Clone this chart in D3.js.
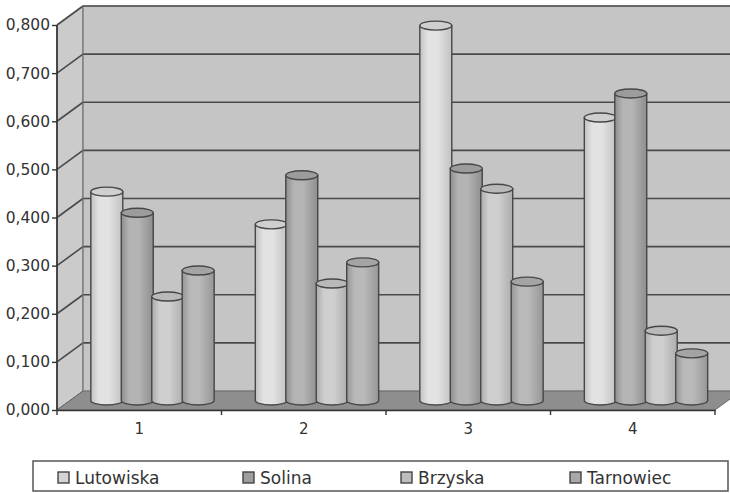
<!DOCTYPE html>
<html>
<head>
<meta charset="utf-8">
<script src="https://cdn.jsdelivr.net/npm/d3@7/dist/d3.min.js"></script>
<style>
  html, body { margin: 0; padding: 0; background: #fff; }
  svg { display: block; }
  text { font-family: "DejaVu Sans", "Liberation Sans", sans-serif; fill: #333; }
</style>
</head>
<body>
<svg id="chart" width="730" height="493"></svg>
<script>
// Categories, series and values
const categories = ["1", "2", "3", "4"];
const seriesNames = ["Lutowiska", "Solina", "Brzyska", "Tarnowiec"];
const lutowiska = [0.434, 0.366, 0.779, 0.588];
const solina    = [0.390, 0.468, 0.482, 0.638];
const brzyska   = [0.216, 0.243, 0.440, 0.145];
const tarnowiec = [0.270, 0.287, 0.247, 0.098];
const yTicks = [0, 0.1, 0.2, 0.3, 0.4, 0.5, 0.6, 0.7, 0.8];

const seriesValues = [lutowiska, solina, brzyska, tarnowiec];
const seriesColors = [
  { light: "#e2e2e2", dark: "#c2c2c2", top: "#cfcfcf", key: "#d4d4d4" },
  { light: "#b4b4b4", dark: "#8e8e8e", top: "#9c9c9c", key: "#9e9e9e" },
  { light: "#cfcfcf", dark: "#acacac", top: "#b9b9b9", key: "#bdbdbd" },
  { light: "#b9b9b9", dark: "#969696", top: "#a4a4a4", key: "#a8a8a8" }
];

const svg = d3.select("#chart");
const defs = svg.append("defs");

// Front plane geometry and oblique depth offset
const x0 = 57, x1 = 715, yBase = 410, yTop = 25;
const depthX = 26, depthY = -19;

const x = d3.scaleBand().domain(categories).range([x0, x1]).paddingInner(0).paddingOuter(0);
const xs = d3.scaleBand().domain(seriesNames).range([0, x.bandwidth()]).paddingInner(0).paddingOuter(0.7);
const y = d3.scaleLinear().domain([0, 0.8]).range([yBase, yTop]);

const lineCol = "#4a4a4a";

// Side wall
svg.append("path")
  .attr("d", `M${x0},${y(0.8)} L${x0 + depthX},${y(0.8) + depthY} L${x0 + depthX},${y(0) + depthY} L${x0},${y(0)} Z`)
  .attr("fill", "#cbcbcb").attr("stroke", lineCol).attr("stroke-width", 1);

// Back wall
svg.append("rect")
  .attr("x", x0 + depthX).attr("y", y(0.8) + depthY)
  .attr("width", x1 - x0).attr("height", y(0) - y(0.8))
  .attr("fill", "#c5c5c5").attr("stroke", "#9a9a9a").attr("stroke-width", 1);

// Floor
svg.append("path")
  .attr("d", `M${x0},${y(0)} L${x0 + depthX},${y(0) + depthY} L${x1 + depthX},${y(0) + depthY} L${x1},${y(0)} Z`)
  .attr("fill", "#8e8e8e").attr("stroke", "#6a6a6a").attr("stroke-width", 1);

// Gridlines on back wall and side wall
const grid = svg.append("g");
yTicks.filter(t => t > 0).forEach(t => {
  grid.append("line")
    .attr("x1", x0 + depthX).attr("x2", x1 + depthX)
    .attr("y1", y(t) + depthY).attr("y2", y(t) + depthY)
    .attr("stroke", lineCol).attr("stroke-width", 1.6);
  grid.append("line")
    .attr("x1", x0).attr("x2", x0 + depthX)
    .attr("y1", y(t)).attr("y2", y(t) + depthY)
    .attr("stroke", lineCol).attr("stroke-width", 1.6);
});
// Back wall left edge
grid.append("line")
  .attr("x1", x0 + depthX).attr("x2", x0 + depthX)
  .attr("y1", y(0.8) + depthY).attr("y2", y(0) + depthY)
  .attr("stroke", "#777").attr("stroke-width", 1);

// Gradients for cylinders
seriesColors.forEach((c, i) => {
  const g = defs.append("linearGradient").attr("id", "cyl" + i)
    .attr("x1", "0%").attr("x2", "100%").attr("y1", "0%").attr("y2", "0%");
  g.append("stop").attr("offset", "0%").attr("stop-color", c.dark);
  g.append("stop").attr("offset", "25%").attr("stop-color", c.light);
  g.append("stop").attr("offset", "55%").attr("stop-color", c.light);
  g.append("stop").attr("offset", "100%").attr("stop-color", c.dark);
});

// Cylinders, placed at mid depth
const midX = depthX / 2, midY = depthY / 2;
const ry = 4.5;
const bars = svg.append("g");
categories.forEach((cat, ci) => {
  seriesNames.forEach((s, si) => {
    const v = seriesValues[si][ci];
    const left = x(cat) + xs(s) + midX - 0.5;
    const w = xs.bandwidth() + 1.5;
    const rx = w / 2;
    const cx = left + rx;
    const yb = y(0) + midY;
    const yt = y(v) + midY;
    const col = seriesColors[si];
    const g = bars.append("g");
    g.append("path")
      .attr("d", `M${left},${yt} L${left},${yb} A${rx},${ry} 0 0 0 ${left + w},${yb} L${left + w},${yt} Z`)
      .attr("fill", `url(#cyl${si})`)
      .attr("stroke", "#474747").attr("stroke-width", 1.4);
    g.append("ellipse")
      .attr("cx", cx).attr("cy", yt).attr("rx", rx).attr("ry", ry)
      .attr("fill", col.top)
      .attr("stroke", "#474747").attr("stroke-width", 1.4);
  });
});

// Value axis
const fmt = d3.formatLocale({ decimal: ",", thousands: " ", grouping: [3], currency: ["", ""] }).format(".3f");
const yAxis = svg.append("g")
  .attr("transform", `translate(${x0},0)`)
  .call(d3.axisLeft(y).tickValues(yTicks).tickFormat(fmt).tickSize(5).tickPadding(2));
yAxis.select(".domain").attr("stroke", "#333").attr("stroke-width", 1.6).attr("d", `M0,${y(0.8)} V${y(0)}`);
yAxis.selectAll(".tick line").attr("stroke", "#333").attr("stroke-width", 1.4);
yAxis.selectAll(".tick text").attr("font-size", 15.5).attr("fill", "#333")
  .style("font-family", "'DejaVu Sans', sans-serif");

// Category axis
const xAxis = svg.append("g")
  .attr("transform", `translate(0,${yBase})`)
  .call(d3.axisBottom(x).tickSize(0).tickPadding(13));
xAxis.select(".domain").attr("stroke", "#333").attr("stroke-width", 1.6);
xAxis.selectAll(".tick text").attr("font-size", 15).attr("fill", "#333")
  .style("font-family", "'DejaVu Sans', sans-serif");
const bounds = [x0].concat(categories.map(c => x(c) + x.bandwidth()));
xAxis.selectAll(".bound").data(bounds).join("line")
  .attr("class", "bound")
  .attr("x1", d => d).attr("x2", d => d).attr("y1", 0).attr("y2", 5)
  .attr("stroke", "#333").attr("stroke-width", 1.4);

// Legend
const legend = svg.append("g");
legend.append("rect")
  .attr("x", 33).attr("y", 461).attr("width", 695).attr("height", 30)
  .attr("fill", "#fff").attr("stroke", "#555").attr("stroke-width", 1.5);
const legendX = d3.scaleOrdinal().domain(seriesNames).range([58, 243, 401, 570]);
seriesNames.forEach((s, i) => {
  legend.append("rect")
    .attr("x", legendX(s)).attr("y", 472).attr("width", 11).attr("height", 11)
    .attr("fill", seriesColors[i].key).attr("stroke", "#444").attr("stroke-width", 1.4);
  legend.append("text")
    .attr("x", legendX(s) + 17).attr("y", 483.5)
    .attr("font-size", 17).attr("fill", "#333")
    .text(s);
});
</script>
</body>
</html>
